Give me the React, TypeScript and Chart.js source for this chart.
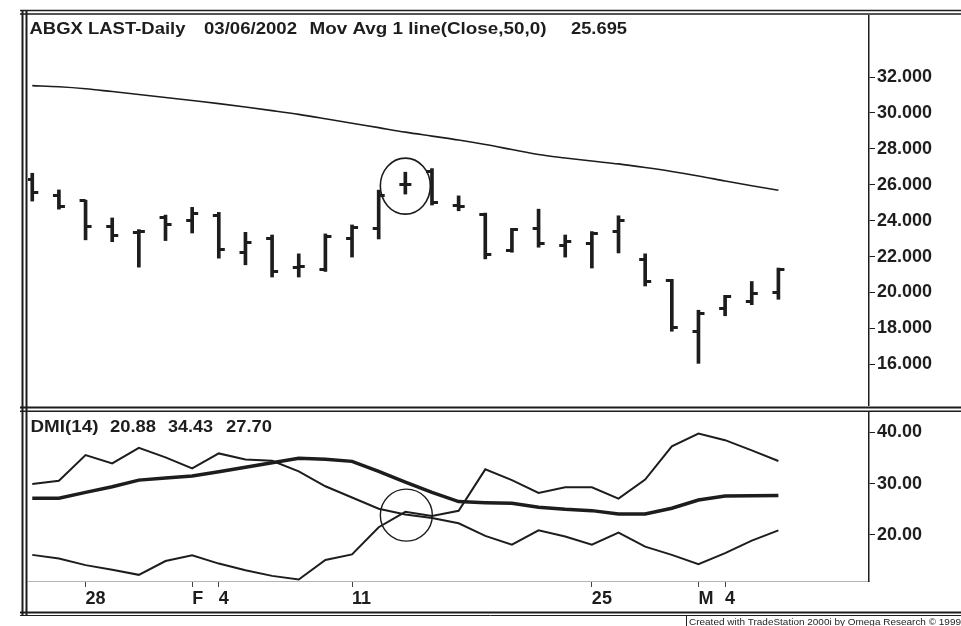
import React, { useEffect, useRef } from 'react';
import { Chart, registerables } from 'chart.js';

Chart.register(...registerables);

// ---------------- data ----------------
const tradingDays = [
  '2002-01-24', '2002-01-25', '2002-01-28', '2002-01-29', '2002-01-30', '2002-01-31',
  '2002-02-01', '2002-02-04', '2002-02-05', '2002-02-06', '2002-02-07', '2002-02-08',
  '2002-02-11', '2002-02-12', '2002-02-13', '2002-02-14', '2002-02-15', '2002-02-19',
  '2002-02-20', '2002-02-21', '2002-02-22', '2002-02-25', '2002-02-26', '2002-02-27',
  '2002-02-28', '2002-03-01', '2002-03-04', '2002-03-05', '2002-03-06',
];

const openPrices = [
  26.30, 25.38, 25.10, 23.69, 23.35, 24.18, 24.00, 24.31, 22.20, 23.00, 21.40, 21.28, 23.02, 23.54,
  26.00, 26.75, 24.85, 24.37, 22.33, 23.54, 22.61, 22.70, 23.39, 21.83, 20.67, 17.81, 19.10, 19.47, 19.99,
];
const highPrices = [
  26.64, 25.71, 25.14, 24.15, 23.50, 24.31, 24.74, 24.46, 23.35, 23.20, 22.15, 23.26, 23.76, 25.70,
  26.70, 26.90, 25.38, 24.42, 23.57, 24.64, 23.20, 23.39, 24.27, 22.15, 20.73, 19.01, 19.84, 20.61, 21.36,
];
const lowPrices = [
  25.09, 24.64, 22.93, 22.83, 21.41, 22.89, 23.31, 21.91, 21.54, 20.86, 20.86, 21.17, 21.97, 22.98,
  25.48, 24.87, 24.55, 21.87, 22.24, 22.52, 21.97, 21.36, 22.20, 20.36, 17.84, 16.05, 18.70, 19.32, 19.62,
];
const closePrices = [
  25.59, 24.79, 23.69, 23.16, 23.40, 23.76, 24.41, 22.37, 22.80, 21.14, 21.45, 23.13, 23.63, 25.42,
  26.03, 25.02, 24.80, 22.09, 23.48, 22.70, 22.83, 23.31, 24.03, 20.61, 18.03, 18.82, 19.75, 19.93, 21.28,
];
const movAvg50 = [
  31.52, 31.46, 31.35, 31.19, 31.03, 30.86, 30.69, 30.52, 30.33, 30.13, 29.92, 29.68, 29.43, 29.18,
  28.93, 28.71, 28.49, 28.24, 27.96, 27.68, 27.49, 27.32, 27.16, 26.96, 26.74, 26.49, 26.21, 25.94, 25.695,
];

const dmiPlus = [
  29.93, 30.57, 35.58, 33.96, 37.0, 35.13, 32.99, 35.91, 34.74, 34.47, 32.4, 29.5, 27.3, 25.1,
  24.0, 23.3, 22.28, 19.8, 18.1, 20.9, 19.7, 18.1, 20.45, 17.72, 16.1, 14.3, 16.43, 18.89, 20.88,
];
const dmiMinus = [
  16.1, 15.4, 14.1, 13.2, 12.2, 14.9, 16.0, 14.4, 13.1, 12.0, 11.3, 15.1, 16.2, 21.5,
  24.5, 23.7, 24.7, 32.8, 30.7, 28.2, 29.3, 29.3, 27.1, 30.8, 37.3, 39.8, 38.5, 36.5, 34.43,
];
const adx = [
  27.15, 27.15, 28.3, 29.4, 30.7, 31.1, 31.5, 32.35, 33.2, 34.1, 34.95, 34.75, 34.36, 32.4,
  30.3, 28.3, 26.5, 26.3, 26.17, 25.39, 25.0, 24.74, 24.1, 24.07, 25.2, 26.82, 27.6, 27.65, 27.70,
];

const priceTicks = [16, 18, 20, 22, 24, 26, 28, 30, 32];
const dmiTicks = [20, 30, 40];
const dateTickIndex = [2, 6, 7, 12, 21, 25, 26];
const dateTickLabels = ['28', 'F', '4', '11', '25', 'M', '4'];
const highlightIndex = 14;

// ---------------- style ----------------
const INK = '#1d1d1d';
const FONT = '"Liberation Sans", Arial, Helvetica, sans-serif';
const X_MIN = -0.16;
const X_MAX = 31.4;

function scaledText(ctx: CanvasRenderingContext2D, text: string, x: number, y: number, width: number, font: string) {
  ctx.save();
  ctx.font = font;
  ctx.fillStyle = INK;
  ctx.textBaseline = 'alphabetic';
  ctx.textAlign = 'left';
  const w = ctx.measureText(text).width;
  ctx.translate(x, y);
  ctx.scale(width / w, 1);
  ctx.fillText(text, 0, 0);
  ctx.restore();
}

function hline(ctx: CanvasRenderingContext2D, x0: number, x1: number, y: number, lw: number, color = INK) {
  ctx.save();
  ctx.strokeStyle = color;
  ctx.lineWidth = lw;
  ctx.beginPath();
  ctx.moveTo(x0, y);
  ctx.lineTo(x1, y);
  ctx.stroke();
  ctx.restore();
}
function vline(ctx: CanvasRenderingContext2D, x: number, y0: number, y1: number, lw: number, color = INK) {
  ctx.save();
  ctx.strokeStyle = color;
  ctx.lineWidth = lw;
  ctx.beginPath();
  ctx.moveTo(x, y0);
  ctx.lineTo(x, y1);
  ctx.stroke();
  ctx.restore();
}

function makeTick(side: 'left' | 'right') {
  const c = document.createElement('canvas');
  c.width = 14;
  c.height = 3;
  const g = c.getContext('2d')!;
  g.fillStyle = INK;
  if (side === 'left') g.fillRect(1, 0, 6, 3);
  else g.fillRect(7, 0, 6, 3);
  return c;
}

const noPadding = (s: any) => {
  s.paddingTop = 0;
  s.paddingBottom = 0;
  s.paddingLeft = 0;
  s.paddingRight = 0;
};

const pricePlugin = {
  id: 'priceDecor',
  afterDraw(chart: any) {
    const ctx = chart.ctx as CanvasRenderingContext2D;
    hline(ctx, 20, 961, 10.5, 1.5);
    hline(ctx, 20, 961, 14, 1.5);
    vline(ctx, 22.5, 10, 410, 2);
    vline(ctx, 26.5, 10, 410, 2);
    hline(ctx, 20, 961, 407.5, 2);
    const f = `bold 16px ${FONT}`;
    scaledText(ctx, 'ABGX LAST-Daily', 29.5, 34, 156, f);
    scaledText(ctx, '03/06/2002', 204, 34, 93, f);
    scaledText(ctx, 'Mov Avg 1 line(Close,50,0)', 309.5, 34, 237, f);
    scaledText(ctx, movAvg50[movAvg50.length - 1].toFixed(3), 571, 34, 56, f);
    // annotation circle
    const xs = chart.scales.x.getPixelForValue(highlightIndex);
    const ys = chart.scales.y.getPixelForValue((highPrices[highlightIndex] + lowPrices[highlightIndex]) / 2);
    ctx.save();
    ctx.strokeStyle = INK;
    ctx.lineWidth = 1.6;
    ctx.beginPath();
    ctx.ellipse(xs, ys + 3, 25, 28, 0, 0, Math.PI * 2);
    ctx.stroke();
    ctx.restore();
  },
};

const dmiPlugin = {
  id: 'dmiDecor',
  afterDraw(chart: any) {
    const ctx = chart.ctx as CanvasRenderingContext2D;
    vline(ctx, 22.5, 0, 206, 2);
    vline(ctx, 26.5, 0, 206, 2);
    hline(ctx, 20, 961, 1.2, 1.5);
    hline(ctx, 20, 961, 202.5, 2);
    hline(ctx, 20, 961, 205.5, 1);
    // footer
    ctx.save();
    ctx.strokeStyle = INK;
    ctx.lineWidth = 1;
    ctx.strokeRect(686.5, 205.5, 280, 12);
    ctx.restore();
    scaledText(ctx, 'Created with TradeStation 2000i by Omega Research \u00a9 1999', 689, 214.5, 272, `9px ${FONT}`);
    // header
    const f = `bold 16px ${FONT}`;
    scaledText(ctx, 'DMI(14)', 30.5, 21.5, 68, f);
    scaledText(ctx, dmiPlus[dmiPlus.length - 1].toFixed(2), 110, 21.5, 46, f);
    scaledText(ctx, dmiMinus[dmiMinus.length - 1].toFixed(2), 168, 21.5, 45, f);
    scaledText(ctx, adx[adx.length - 1].toFixed(2), 226, 21.5, 46, f);
    // annotation circle
    const xs = chart.scales.x.getPixelForValue(highlightIndex);
    const ys = chart.scales.y.getPixelForValue((dmiPlus[highlightIndex] + dmiMinus[highlightIndex]) / 2);
    ctx.save();
    ctx.strokeStyle = INK;
    ctx.lineWidth = 1.4;
    ctx.beginPath();
    ctx.ellipse(xs + 1, ys + 2, 26, 26, 0, 0, Math.PI * 2);
    ctx.stroke();
    ctx.restore();
  },
};

export default function App() {
  const priceRef = useRef<HTMLCanvasElement | null>(null);
  const dmiRef = useRef<HTMLCanvasElement | null>(null);

  useEffect(() => {
    const idx = tradingDays.map((_, i) => i);
    const openTick = makeTick('left');
    const closeTick = makeTick('right');
    const tickFont = { family: FONT, size: 18, weight: 'bold' as const };

    const price = new Chart(priceRef.current!, {
      type: 'bar',
      data: {
        datasets: [
          {
            type: 'line',
            label: 'Mov Avg 50',
            data: idx.map((i) => ({ x: i, y: movAvg50[i] })),
            borderColor: INK,
            borderWidth: 1.6,
            pointRadius: 0,
            tension: 0.4,
            cubicInterpolationMode: 'monotone',
          } as any,
          {
            type: 'bar',
            label: 'High-Low',
            data: idx.map((i) => ({ x: i, y: [lowPrices[i], highPrices[i]] })),
            backgroundColor: INK,
            borderWidth: 0,
            barThickness: 3,
            grouped: false,
          } as any,
          {
            type: 'scatter',
            label: 'Open',
            data: idx.map((i) => ({ x: i, y: openPrices[i] })),
            pointStyle: openTick,
            pointRadius: 3,
            showLine: false,
          } as any,
          {
            type: 'scatter',
            label: 'Close',
            data: idx.map((i) => ({ x: i, y: closePrices[i] })),
            pointStyle: closeTick,
            pointRadius: 3,
            showLine: false,
          } as any,
        ],
      },
      options: {
        responsive: false,
        animation: false,
        events: [],
        layout: { padding: { left: 28, top: 16, right: 0, bottom: 3 } },
        plugins: { legend: { display: false }, tooltip: { enabled: false } },
        scales: {
          x: {
            type: 'linear',
            min: X_MIN,
            max: X_MAX,
            offset: false,
            display: false,
            grid: { offset: false },
          },
          y: {
            type: 'linear',
            position: 'right',
            min: 13.73,
            max: 35.4,
            beginAtZero: false,
            afterBuildTicks: (s: any) => {
              s.ticks = priceTicks.map((v) => ({ value: v }));
            },
            afterFit: (s: any) => {
              s.width = 92;
              noPadding(s);
            },
            ticks: {
              callback: (v: any) => Number(v).toFixed(3),
              font: tickFont,
              color: INK,
              padding: 2,
            },
            grid: { drawOnChartArea: false, tickLength: 6, color: INK, lineWidth: 1 },
            border: { display: true, color: INK, width: 1.5 },
          },
        },
      } as any,
      plugins: [pricePlugin],
    });

    const dmi = new Chart(dmiRef.current!, {
      type: 'line',
      data: {
        datasets: [
          {
            label: 'DMI+',
            data: idx.map((i) => ({ x: i, y: dmiPlus[i] })),
            borderColor: INK,
            borderWidth: 2,
            pointRadius: 0,
            tension: 0,
          },
          {
            label: 'DMI-',
            data: idx.map((i) => ({ x: i, y: dmiMinus[i] })),
            borderColor: INK,
            borderWidth: 2,
            pointRadius: 0,
            tension: 0,
          },
          {
            label: 'ADX',
            data: idx.map((i) => ({ x: i, y: adx[i] })),
            borderColor: INK,
            borderWidth: 3.5,
            pointRadius: 0,
            tension: 0,
          },
        ],
      },
      options: {
        responsive: false,
        animation: false,
        events: [],
        layout: { padding: { left: 28, top: 2, right: 0, bottom: 0 } },
        plugins: { legend: { display: false }, tooltip: { enabled: false } },
        scales: {
          x: {
            type: 'linear',
            position: 'bottom',
            min: X_MIN,
            max: X_MAX,
            offset: false,
            afterBuildTicks: (s: any) => {
              s.ticks = dateTickIndex.map((v) => ({ value: v }));
            },
            afterFit: (s: any) => {
              s.height = 45;
              noPadding(s);
            },
            ticks: {
              autoSkip: false,
              maxRotation: 0,
              minRotation: 0,
              align: 'start',
              padding: 1,
              font: tickFont,
              color: INK,
              callback: (v: any) => {
                const k = dateTickIndex.indexOf(Number(v));
                return k >= 0 ? dateTickLabels[k] : '';
              },
            },
            grid: { drawOnChartArea: false, offset: false, tickLength: 6, color: '#444', lineWidth: 1 },
            border: { display: true, color: '#b5b5b5', width: 1, dash: [3, 3] },
          },
          y: {
            type: 'linear',
            position: 'right',
            min: 11,
            max: 44,
            afterBuildTicks: (s: any) => {
              s.ticks = dmiTicks.map((v) => ({ value: v }));
            },
            afterFit: (s: any) => {
              s.width = 92;
              noPadding(s);
            },
            ticks: {
              callback: (v: any) => Number(v).toFixed(2),
              font: tickFont,
              color: INK,
              padding: 2,
            },
            grid: { drawOnChartArea: false, tickLength: 6, color: INK, lineWidth: 1 },
            border: { display: true, color: INK, width: 1.5 },
          },
        },
      } as any,
      plugins: [dmiPlugin],
    });

    return () => {
      price.destroy();
      dmi.destroy();
    };
  }, []);

  return (
    <div style={{ position: 'absolute', left: 0, top: 0, width: 961, height: 626, background: '#fff', overflow: 'hidden' }}>
      <canvas ref={priceRef} width={961} height={410} style={{ position: 'absolute', left: 0, top: 0, display: 'block' }} />
      <canvas ref={dmiRef} width={961} height={216} style={{ position: 'absolute', left: 0, top: 410, display: 'block' }} />
    </div>
  );
}
